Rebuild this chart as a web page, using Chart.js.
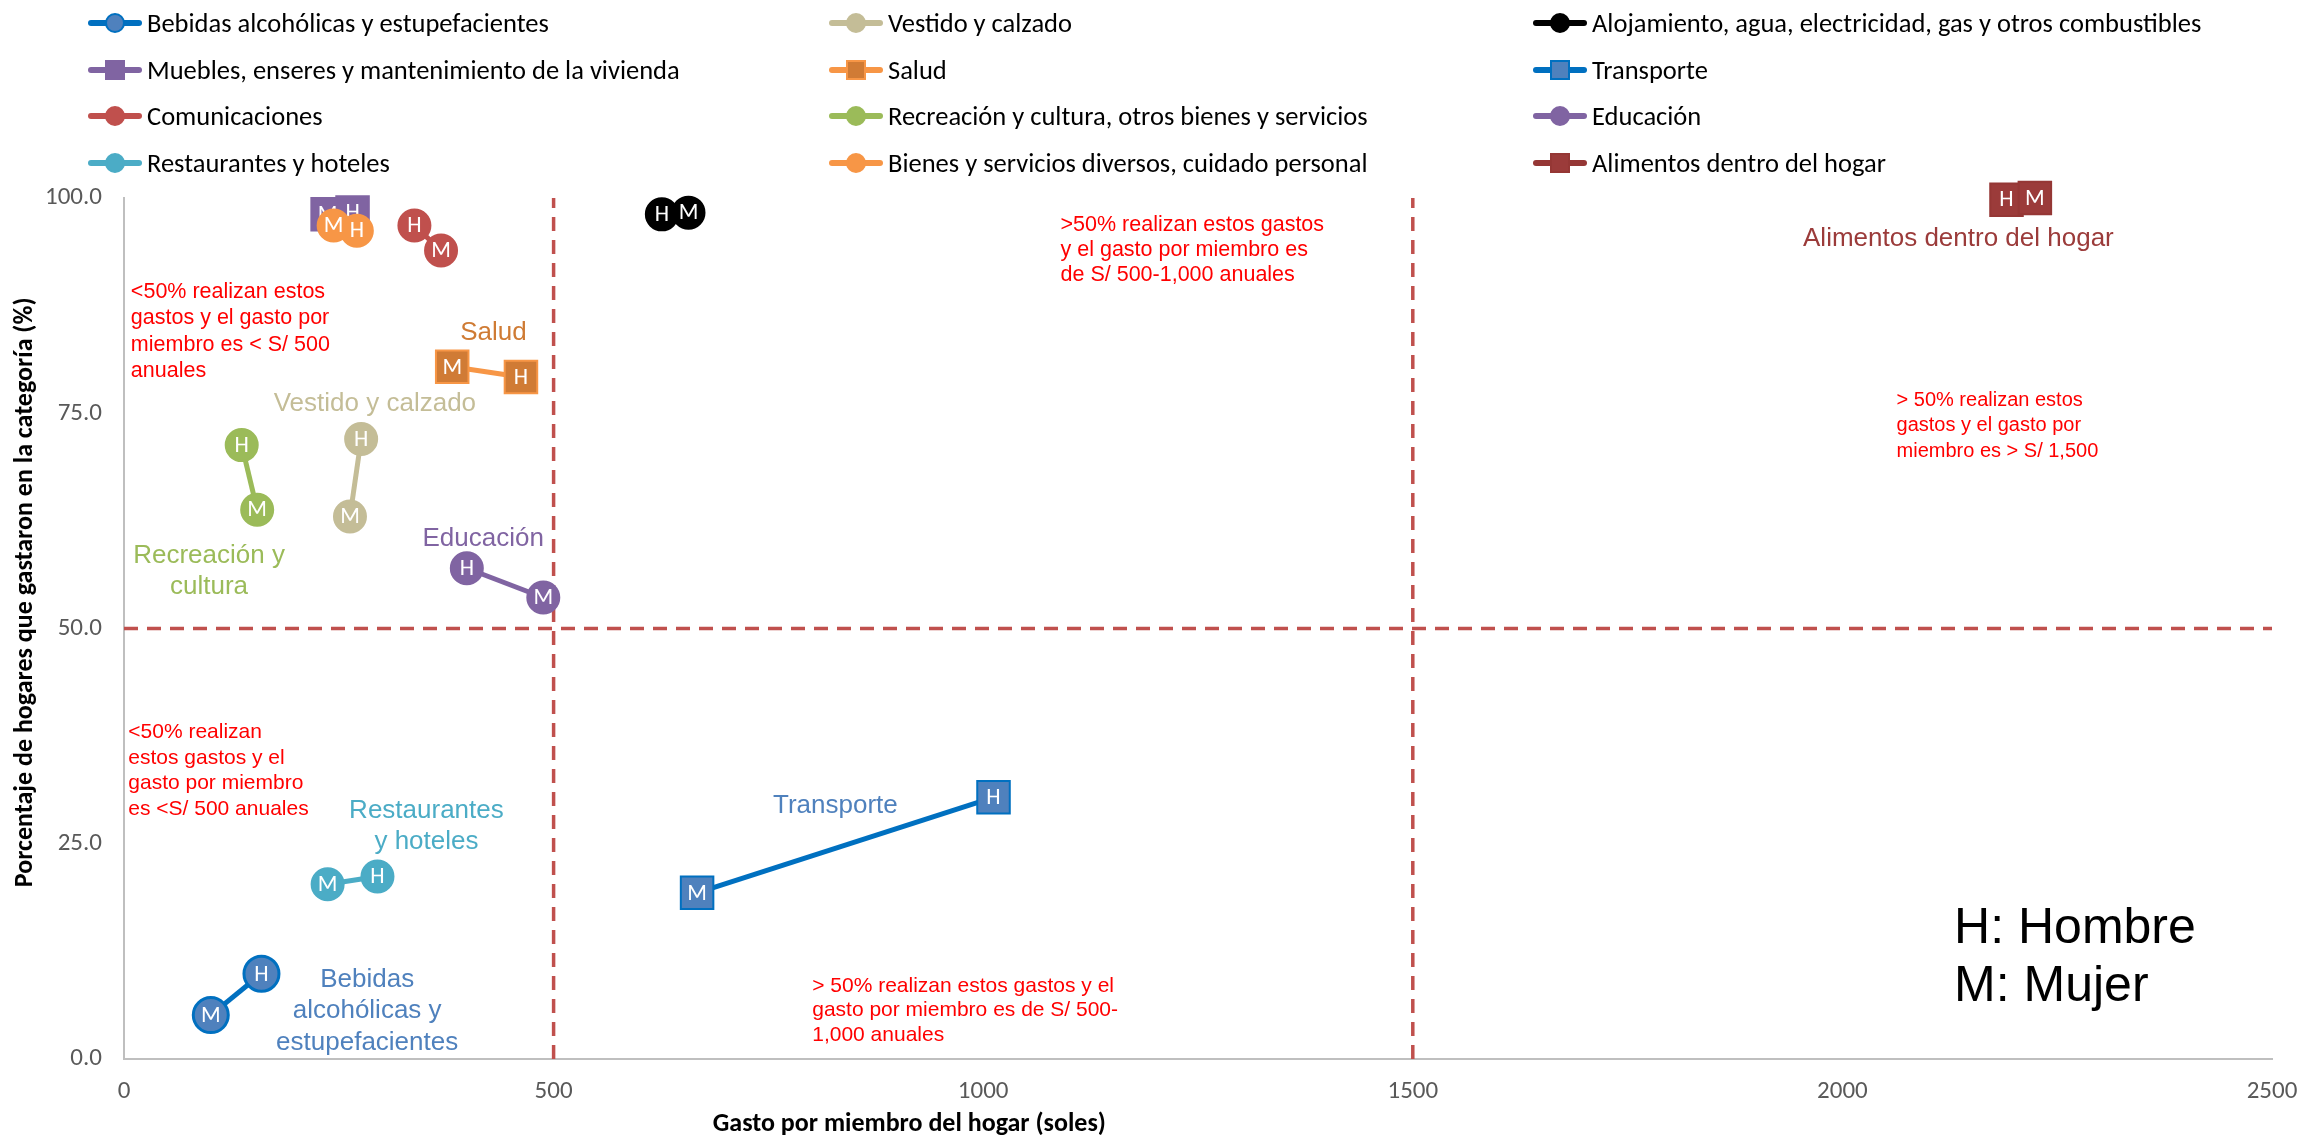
<!DOCTYPE html>
<html lang="es">
<head>
<meta charset="utf-8">
<title>Gasto por miembro del hogar y porcentaje de hogares</title>
<script src="https://cdn.jsdelivr.net/npm/chart.js"></script>
<style>
  body { margin: 0; background: #fff; }
  #wrap { position: relative; width: 2300px; height: 1138px; }
  #legend {
    position: absolute; left: 88px; top: 0;
    display: grid; grid-template-columns: 741px 704px auto; grid-auto-rows: 46.5px;
    font-family: Carlito, Lato, sans-serif; font-size: 26.5px; color: #000;
  }
  .item { display: flex; align-items: center; white-space: nowrap; }
  .swatch { position: relative; width: 54px; height: 20px; margin-right: 5px; flex: none; }
  .swatch .ln { position: absolute; left: 0; right: 0; top: 7px; height: 6px; border-radius: 3px; }
  .swatch .mk { position: absolute; left: 17px; top: 0; border: 2px solid; box-sizing: border-box; width: 20px; height: 20px; }
</style>
</head>
<body>
<div id="wrap">
  <canvas id="grafico" width="2300" height="1138"></canvas>
  <div id="legend"></div>
</div>
<script>
// Categorias de gasto (orden de la leyenda)
const categorias = [
  'Bebidas alcohólicas y estupefacientes',
  'Vestido y calzado',
  'Alojamiento, agua, electricidad, gas y otros combustibles',
  'Muebles, enseres y mantenimiento de la vivienda',
  'Salud',
  'Transporte',
  'Comunicaciones',
  'Recreación y cultura, otros bienes y servicios',
  'Educación',
  'Restaurantes y hoteles',
  'Bienes y servicios diversos, cuidado personal',
  'Alimentos dentro del hogar'
];

// H = hogares con jefe hombre, M = jefa mujer
const gastoHombre = [160, 276, 626, 266, 462, 1012, 338, 137, 399, 295, 271, 2191];
const pctHombre   = [9.9, 72.0, 98.1, 98.3, 79.2, 30.4, 96.8, 71.3, 57.0, 21.2, 96.2, 99.8];
const gastoMujer  = [101, 263, 657, 237, 382, 667, 369, 155, 488, 237, 244, 2224];
const pctMujer    = [5.1, 63.0, 98.3, 98.1, 80.4, 19.3, 93.9, 63.8, 53.6, 20.3, 96.8, 100.0];

const ticksX = [0, 500, 1000, 1500, 2000, 2500];
const ticksY = [0, 25, 50, 75, 100];

// estilos por serie
const colorLinea   = ['#0070C0', '#C4BD97', '#000000', '#8064A2', '#F79646', '#0070C0', '#C0504D', '#9BBB59', '#8064A2', '#4BACC6', '#F79646', '#953735'];
const colorRelleno = ['#4F81BD', '#C4BD97', '#000000', '#8064A2', '#D07B35', '#4F81BD', '#C0504D', '#9BBB59', '#8064A2', '#4BACC6', '#F79646', '#9B3B3A'];
const colorBorde   = ['#0070C0', '#C4BD97', '#000000', '#8064A2', '#F79646', '#0070C0', '#C0504D', '#9BBB59', '#8064A2', '#4BACC6', '#F79646', '#953735'];
const forma        = ['circle', 'circle', 'circle', 'rect', 'rect', 'rect', 'circle', 'circle', 'circle', 'circle', 'circle', 'rect'];

const FUENTE = 'Carlito, Lato, sans-serif';
const ARIAL = '"Liberation Sans", Arial, sans-serif';

// textos sobre el grafico (posicion en unidades de los ejes)
const notas = [
  { lineas: ['<50% realizan estos', 'gastos y el gasto por', 'miembro es < S/ 500', 'anuales'], x: 8, y: 89.1, color: '#FF0000', size: 21.5, lh: 26.5, align: 'left' },
  { lineas: ['<50% realizan', 'estos gastos y el', 'gasto por miembro', 'es <S/ 500 anuales'], x: 5, y: 37.9, color: '#FF0000', size: 21, lh: 25.4, align: 'left' },
  { lineas: ['>50% realizan estos gastos', 'y el gasto por miembro es', 'de S/ 500-1,000 anuales'], x: 1090, y: 96.8, color: '#FF0000', size: 21.5, lh: 25, align: 'left' },
  { lineas: ['> 50% realizan estos', 'gastos y el gasto por', 'miembro es > S/ 1,500'], x: 2063, y: 76.5, color: '#FF0000', size: 20, lh: 25.5, align: 'left' },
  { lineas: ['> 50% realizan estos gastos y el', 'gasto por miembro es de S/ 500-', '1,000 anuales'], x: 801, y: 8.5, color: '#FF0000', size: 21, lh: 24.5, align: 'left' },
  { lineas: ['Salud'], x: 430, y: 84.3, color: '#CF7B34', size: 26, lh: 31, align: 'center' },
  { lineas: ['Vestido y calzado'], x: 292, y: 76.1, color: '#C4BD97', size: 26, lh: 31, align: 'center' },
  { lineas: ['Recreación y', 'cultura'], x: 99, y: 58.4, color: '#9BBB59', size: 26, lh: 31, align: 'center' },
  { lineas: ['Educación'], x: 418, y: 60.4, color: '#8064A2', size: 26, lh: 31, align: 'center' },
  { lineas: ['Restaurantes', 'y hoteles'], x: 352, y: 28.8, color: '#4BACC6', size: 26, lh: 31, align: 'center' },
  { lineas: ['Bebidas', 'alcohólicas y', 'estupefacientes'], x: 283, y: 9.2, color: '#4F81BD', size: 26, lh: 31.5, align: 'center' },
  { lineas: ['Transporte'], x: 828, y: 29.4, color: '#4F81BD', size: 26, lh: 31, align: 'center' },
  { lineas: ['Alimentos dentro del hogar'], x: 2135, y: 95.2, color: '#9B3B3A', size: 26, lh: 31, align: 'center' },
  { lineas: ['H: Hombre', 'M: Mujer'], x: 2130, y: 15.1, color: '#000000', size: 50, lh: 58, align: 'left' }
];

const datasets = categorias.map((nombre, i) => {
  const puntos = [
    { x: gastoHombre[i], y: pctHombre[i], sexo: 'H' },
    { x: gastoMujer[i], y: pctMujer[i], sexo: 'M' }
  ].sort((a, b) => a.x - b.x);
  const cuadrado = forma[i] === 'rect';
  const radio = cuadrado ? 23 : (i === 0 ? 17.5 : 16);
  return {
    label: nombre,
    data: puntos,
    showLine: true,
    borderColor: colorLinea[i],
    borderWidth: 5,
    pointStyle: forma[i],
    pointRadius: radio,
    pointHoverRadius: radio,
    pointBackgroundColor: colorRelleno[i],
    pointBorderColor: colorBorde[i],
    pointBorderWidth: i === 0 ? 3 : 2,
    clip: false,
    order: categorias.length - i
  };
});

// lineas de referencia punteadas
const lineasRef = {
  id: 'lineasRef',
  beforeDatasetsDraw(chart) {
    const { ctx, scales: { x, y } } = chart;
    ctx.save();
    ctx.strokeStyle = '#C0504D';
    ctx.lineWidth = 3.5;
    ctx.setLineDash([14, 9]);
    [500, 1500].forEach(v => {
      ctx.beginPath();
      ctx.moveTo(x.getPixelForValue(v), y.getPixelForValue(0));
      ctx.lineTo(x.getPixelForValue(v), y.getPixelForValue(100));
      ctx.stroke();
    });
    ctx.beginPath();
    ctx.moveTo(x.getPixelForValue(0), y.getPixelForValue(50));
    ctx.lineTo(x.getPixelForValue(2500), y.getPixelForValue(50));
    ctx.stroke();
    ctx.restore();
  }
};

// letras H / M dentro de cada marcador
const letras = {
  id: 'letras',
  afterDatasetDraw(chart, args) {
    const ctx = chart.ctx;
    const ds = chart.data.datasets[args.index];
    ctx.save();
    ctx.font = '23px ' + FUENTE;
    ctx.fillStyle = '#fff';
    ctx.textAlign = 'center';
    ctx.textBaseline = 'middle';
    args.meta.data.forEach((pt, j) => ctx.fillText(ds.data[j].sexo, pt.x, pt.y + 1));
    ctx.restore();
  }
};

// notas de texto y titulos de ejes
const textos = {
  id: 'textos',
  afterDraw(chart) {
    const { ctx, scales: { x, y } } = chart;
    ctx.save();
    ctx.textBaseline = 'middle';
    notas.forEach(n => {
      ctx.font = n.size + 'px ' + ARIAL;
      ctx.fillStyle = n.color;
      ctx.textAlign = n.align;
      const px = x.getPixelForValue(n.x);
      const py = y.getPixelForValue(n.y);
      n.lineas.forEach((t, k) => ctx.fillText(t, px, py + k * n.lh));
    });
    ctx.fillStyle = '#000';
    ctx.font = 'bold 26px ' + FUENTE;
    ctx.textAlign = 'center';
    ctx.fillText('Gasto por miembro del hogar (soles)', x.getPixelForValue(914), 1124);
    ctx.translate(25, y.getPixelForValue(54.2));
    ctx.rotate(-Math.PI / 2);
    ctx.fillText('Porcentaje de hogares que gastaron en la categoría (%)', 0, 0);
    ctx.restore();
  }
};

const chart = new Chart(document.getElementById('grafico'), {
  type: 'scatter',
  data: { datasets },
  options: {
    responsive: false,
    animation: false,
    devicePixelRatio: 1,
    events: [],
    layout: { padding: { top: 198, right: 28, left: 0, bottom: 0 } },
    plugins: { legend: { display: false }, tooltip: { enabled: false } },
    scales: {
      x: {
        type: 'linear', min: 0, max: 2500,
        afterBuildTicks: s => { s.ticks = ticksX.map(v => ({ value: v })); },
        afterFit: s => { s.height = 79; s.paddingLeft = 0; s.paddingRight = 0; },
        grid: { display: false, drawTicks: false },
        border: { display: true, color: '#BFBFBF', width: 2 },
        ticks: { color: '#595959', font: { family: FUENTE, size: 25 }, padding: 18, maxRotation: 0, callback: v => String(v) }
      },
      y: {
        type: 'linear', min: 0, max: 100,
        afterBuildTicks: s => { s.ticks = ticksY.map(v => ({ value: v })); },
        afterFit: s => { s.width = 124; s.paddingTop = 0; s.paddingBottom = 0; },
        grid: { display: false, drawTicks: false },
        border: { display: true, color: '#BFBFBF', width: 2 },
        ticks: { color: '#595959', font: { family: FUENTE, size: 25 }, padding: 22, callback: v => Number(v).toFixed(1) }
      }
    }
  },
  plugins: [lineasRef, letras, textos]
});

// leyenda en HTML, tres columnas
const leyenda = document.getElementById('legend');
chart.data.datasets.forEach((ds, i) => {
  const item = document.createElement('div');
  item.className = 'item';
  const sw = document.createElement('span');
  sw.className = 'swatch';
  const ln = document.createElement('span');
  ln.className = 'ln';
  ln.style.background = colorLinea[i];
  const mk = document.createElement('span');
  mk.className = 'mk';
  mk.style.background = colorRelleno[i];
  mk.style.borderColor = colorBorde[i];
  mk.style.borderRadius = forma[i] === 'circle' ? '50%' : '0';
  sw.appendChild(ln);
  sw.appendChild(mk);
  const txt = document.createElement('span');
  txt.textContent = ds.label;
  item.appendChild(sw);
  item.appendChild(txt);
  leyenda.appendChild(item);
});
</script>
</body>
</html>
